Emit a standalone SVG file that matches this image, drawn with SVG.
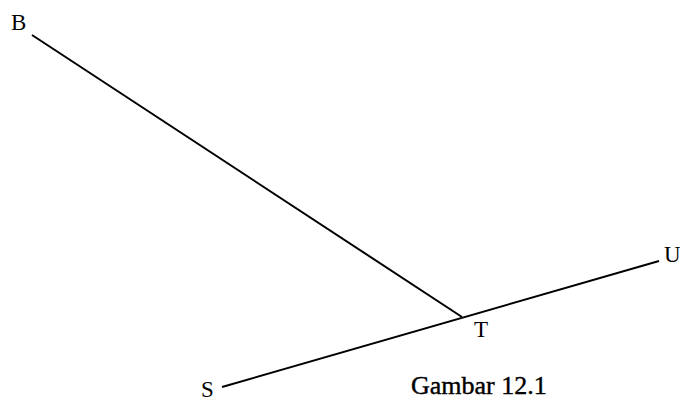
<svg xmlns="http://www.w3.org/2000/svg" width="680" height="400" viewBox="0 0 680 400">
<style>
.l{stroke:#000;stroke-width:2;fill:none}
.t{font-family:"Liberation Serif",serif;font-size:23px;fill:#000}
.cap{font-size:26px;stroke:#000;stroke-width:0.4}
</style>
<rect width="680" height="400" fill="#fff"/>
<g id="connectors">
<line class="l" x1="32" y1="35" x2="462" y2="317"/>
<line class="l" x1="222" y1="387" x2="659" y2="261"/>
</g>
<g id="B"><text class="t" x="11" y="30">B</text></g>
<g id="T"><text class="t" x="474" y="337">T</text></g>
<g id="U"><text class="t" x="664" y="262">U</text></g>
<g id="S"><text class="t" x="201" y="397">S</text></g>
<g id="caption"><text class="t cap" x="411" y="394">Gambar 12.1</text></g>
</svg>
